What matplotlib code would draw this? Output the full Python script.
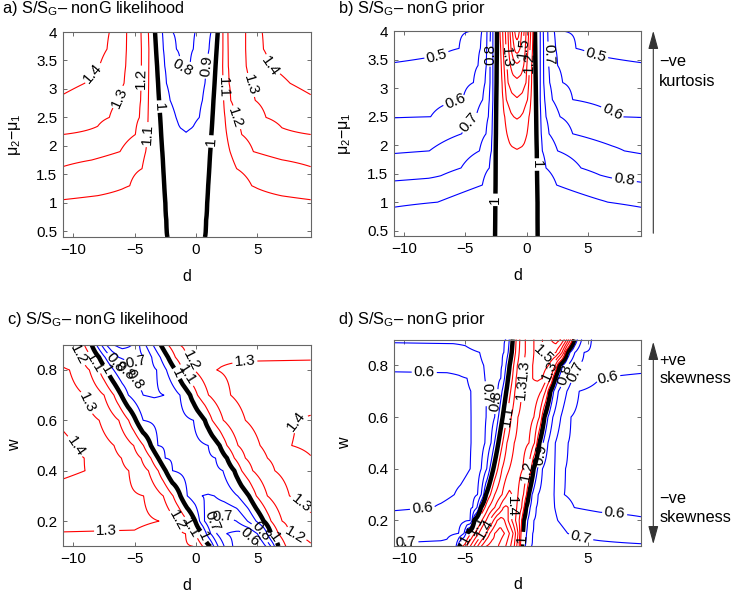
import numpy as np
import matplotlib
matplotlib.use("Agg")
import matplotlib.pyplot as plt
import matplotlib.patches as mpatches
from matplotlib.ticker import FuncFormatter

plt.rcParams['font.family'] = ['Liberation Sans', 'DejaVu Sans']
plt.rcParams['mathtext.fontset'] = 'custom'
plt.rcParams['mathtext.rm'] = 'Liberation Sans'
plt.rcParams['mathtext.it'] = 'Liberation Sans:italic'
plt.rcParams['mathtext.bf'] = 'Liberation Sans:bold'
plt.rcParams['font.size'] = 11

D_MIN, D_MAX = -10.85, 9.35

# ---------------- panel a : S/S_G, nonG likelihood (rows of (d, S))
a_rows_y = [4.0, 3.7, 3.4, 3.1, 2.8, 2.5, 2.2, 1.9, 1.6, 1.3, 1.0, 0.7, 0.4]
a_rows = [
    [(-10.85,1.56),(-7.05,1.4),(-5.64,1.3),(-4.47,1.2),(-3.87,1.1),(-3.33,1.0),(-2.73,0.9),(-1.89,0.8),(-0.85,0.77),(-0.07,0.8),(1.23,0.9),(1.78,1.0),(2.2,1.1),(2.6,1.2),(4.05,1.3),(5.4,1.4),(9.35,1.56)],
    [(-10.85,1.52),(-7.24,1.4),(-5.66,1.3),(-4.44,1.2),(-3.83,1.1),(-3.25,1.0),(-2.65,0.9),(-1.59,0.8),(-0.85,0.785),(-0.21,0.8),(1.07,0.9),(1.69,1.0),(2.2,1.1),(2.62,1.2),(4.05,1.3),(5.5,1.4),(9.35,1.52)],
    [(-10.85,1.48),(-7.86,1.4),(-5.72,1.3),(-4.44,1.2),(-3.84,1.1),(-3.16,1.0),(-2.54,0.9),(-1.24,0.8),(-0.85,0.796),(-0.48,0.8),(0.91,0.9),(1.60,1.0),(2.18,1.1),(2.64,1.2),(4.1,1.3),(6.04,1.4),(9.35,1.48)],
    [(-10.85,1.43),(-9.06,1.4),(-5.85,1.3),(-4.46,1.2),(-3.85,1.1),(-3.08,1.0),(-2.4,0.9),(-1.6,0.841),(-0.85,0.82),(0.0,0.841),(0.74,0.9),(1.52,1.0),(2.21,1.1),(2.7,1.2),(4.36,1.3),(7.67,1.4),(9.35,1.43)],
    [(-10.85,1.385),(-6.23,1.3),(-4.5,1.2),(-3.87,1.1),(-3.0,1.0),(-2.1,0.9),(-1.5,0.864),(-0.8,0.85),(-0.1,0.864),(0.53,0.9),(1.43,1.0),(2.26,1.1),(2.83,1.2),(4.83,1.3),(9.35,1.385)],
    [(-10.85,1.343),(-7.05,1.3),(-4.6,1.2),(-3.9,1.1),(-2.91,1.0),(-1.62,0.9),(-1.25,0.8845),(-0.8,0.88),(-0.35,0.8845),(0.28,0.9),(1.35,1.0),(2.37,1.1),(3.19,1.2),(5.71,1.3),(9.35,1.343)],
    [(-10.85,1.30),(-8.0,1.29),(-4.93,1.2),(-3.94,1.1),(-2.83,1.0),(-2.0,0.937),(-1.4,0.9115),(-0.8,0.903),(-0.2,0.9115),(0.4,0.937),(1.26,1.0),(2.51,1.1),(3.73,1.2),(7.0,1.29),(9.35,1.30)],
    [(-10.85,1.253),(-8.5,1.24),(-6.18,1.2),(-4.09,1.1),(-2.74,1.0),(-0.8,0.925),(1.17,1.0),(2.78,1.1),(4.68,1.2),(7.0,1.24),(9.35,1.253)],
    [(-10.85,1.193),(-4.39,1.1),(-2.66,1.0),(-0.8,0.945),(1.09,1.0),(3.32,1.1),(9.35,1.193)],
    [(-10.85,1.145),(-8.0,1.13),(-5.39,1.1),(-2.58,1.0),(-0.8,0.96),(1.0,1.0),(4.55,1.1),(7.0,1.13),(9.35,1.145)],
    [(-10.85,1.09),(-6.0,1.07),(-2.49,1.0),(-0.8,0.975),(0.92,1.0),(5.0,1.07),(9.35,1.09)],
    [(-10.85,1.05),(-2.41,1.0),(-0.8,0.985),(0.83,1.0),(9.35,1.05)],
    [(-10.85,1.02),(-2.32,1.0),(-0.8,0.99),(0.74,1.0),(9.35,1.02)],
]
a_blue_levels = [0.8, 0.9]
a_red_levels = [1.1, 1.2, 1.3, 1.4]
a_lab_blue = [(-1.16, 3.34), (0.88, 3.4)]
a_lab_black = [(-2.98, 2.69), (1.02, 2.08)]
a_lab_red = [(-8.22, 3.25), (-6.18, 2.84), (-4.55, 3.19), (-4.06, 2.2),
             (2.18, 3.02), (3.19, 2.49), (4.27, 3.05), (5.77, 3.37)]

# ---------------- panel b : S/S_G, nonG prior
b_rows_y = [4.0, 3.7, 3.4, 3.1, 2.8, 2.5, 2.2, 1.9, 1.6, 1.3, 1.0, 0.7, 0.4]
b_rows = [
    [(-10.85,0.45),(-4.62,0.5),(-3.66,0.6),(-3.23,0.7),(-2.95,0.8),(-2.75,0.9),(-2.41,1.0),(-2.17,1.1),(-1.95,1.2),(-1.73,1.3),(-1.51,1.4),(-1.35,1.5),(-1.16,1.6),(-0.97,1.7),(-0.88,1.736),(-0.78,1.75),(-0.68,1.736),(-0.59,1.7),(-0.40,1.6),(-0.20,1.5),(-0.04,1.4),(0.18,1.3),(0.34,1.2),(0.53,1.1),(0.69,1.0),(1.12,0.9),(1.37,0.8),(1.73,0.7),(2.27,0.6),(3.09,0.5),(9.35,0.45)],
    [(-10.85,0.475),(-7.0,0.49),(-5.51,0.5),(-3.77,0.6),(-3.25,0.7),(-2.98,0.8),(-2.75,0.9),(-2.42,1.0),(-2.11,1.1),(-1.91,1.2),(-1.68,1.3),(-1.47,1.4),(-1.27,1.5),(-1.0,1.6),(-0.9,1.637),(-0.78,1.65),(-0.66,1.637),(-0.53,1.6),(-0.29,1.5),(-0.10,1.4),(0.12,1.3),(0.28,1.2),(0.49,1.1),(0.71,1.0),(1.12,0.9),(1.39,0.8),(1.76,0.7),(2.38,0.6),(4.04,0.5),(5.6,0.49),(9.35,0.475)],
    [(-10.85,0.505),(-7.0,0.515),(-5.5,0.54),(-3.96,0.6),(-3.29,0.7),(-2.98,0.8),(-2.75,0.9),(-2.44,1.0),(-2.06,1.1),(-1.84,1.2),(-1.6,1.3),(-1.32,1.4),(-1.08,1.456),(-0.78,1.48),(-0.48,1.456),(-0.23,1.4),(0.03,1.3),(0.24,1.2),(0.42,1.1),(0.73,1.0),(1.12,0.9),(1.39,0.8),(1.81,0.7),(2.54,0.6),(4.0,0.54),(5.5,0.515),(9.35,0.505)],
    [(-10.85,0.537),(-7.0,0.55),(-4.34,0.6),(-3.39,0.7),(-2.98,0.8),(-2.75,0.9),(-2.45,1.0),(-2.0,1.1),(-1.76,1.2),(-1.51,1.3),(-1.18,1.352),(-0.78,1.375),(-0.38,1.352),(-0.04,1.3),(0.18,1.2),(0.41,1.1),(0.75,1.0),(1.12,0.9),(1.40,0.8),(1.89,0.7),(2.95,0.6),(6.0,0.55),(9.35,0.535)],
    [(-10.85,0.567),(-8.0,0.575),(-5.21,0.6),(-3.58,0.7),(-3.04,0.8),(-2.75,0.9),(-2.47,1.0),(-1.92,1.1),(-1.65,1.2),(-1.23,1.266),(-0.78,1.29),(-0.33,1.266),(0.08,1.2),(0.35,1.1),(0.77,1.0),(1.12,0.9),(1.48,0.8),(2.11,0.7),(3.77,0.6),(6.5,0.575),(9.35,0.565)],
    [(-10.85,0.597),(-7.83,0.6),(-4.13,0.7),(-3.12,0.8),(-2.79,0.9),(-2.49,1.0),(-1.78,1.1),(-1.28,1.181),(-1.05,1.2),(-0.78,1.208),(-0.51,1.2),(-0.28,1.181),(0.20,1.1),(0.79,1.0),(1.16,0.9),(1.59,0.8),(2.74,0.7),(7.45,0.6),(9.35,0.598)],
    [(-10.85,0.643),(-8.0,0.655),(-5.3,0.7),(-3.31,0.8),(-2.82,0.9),(-2.50,1.0),(-1.6,1.1),(-1.18,1.139),(-0.78,1.151),(-0.38,1.139),(0.04,1.1),(0.81,1.0),(1.20,0.9),(1.84,0.8),(3.77,0.7),(7.0,0.655),(9.35,0.645)],
    [(-10.85,0.691),(-7.94,0.7),(-3.85,0.8),(-2.87,0.9),(-2.52,1.0),(-1.98,1.048),(-1.38,1.083),(-0.78,1.095),(-0.18,1.083),(0.42,1.048),(0.84,1.0),(1.29,0.9),(2.54,0.8),(7.99,0.7),(9.35,0.69)],
    [(-10.85,0.749),(-8.0,0.76),(-5.35,0.8),(-3.04,0.9),(-2.53,1.0),(-0.78,1.06),(0.86,1.0),(1.59,0.9),(4.45,0.8),(7.0,0.765),(9.35,0.75)],
    [(-10.85,0.816),(-7.0,0.83),(-3.61,0.9),(-2.54,1.0),(-0.78,1.03),(0.88,1.0),(2.46,0.9),(6.0,0.83),(9.35,0.81)],
    [(-10.85,0.885),(-7.26,0.9),(-2.55,1.0),(-0.78,1.012),(0.90,1.0),(6.63,0.9),(9.35,0.885)],
    [(-10.85,0.935),(-2.56,1.0),(-0.78,1.008),(0.90,1.0),(9.35,0.935)],
    [(-10.85,0.96),(-2.57,1.0),(-0.78,1.005),(0.91,1.0),(9.35,0.96)],
]
b_blue_levels = [0.5, 0.6, 0.7, 0.8, 0.9]
b_red_levels = [1.1, 1.2, 1.3, 1.4, 1.5, 1.6, 1.7]
b_lab_blue = [(-7.26, 3.48), (5.59, 3.5), (-5.76, 2.71), (6.76, 2.49), (-4.75, 2.42),
              (7.99, 1.39), (-2.95, 3.6), (1.75, 3.6)]
b_lab_black = [(-2.5, 1.04), (0.8, 1.66)]
b_lab_red = [(-1.68, 3.55), (-0.25, 3.7), (0.2, 3.45)]

# ---------------- panel c : S/S_G, nonG likelihood (skewness)
c_rows_y = [0.9, 0.85, 0.8, 0.7, 0.6, 0.5, 0.45, 0.4, 0.3, 0.2, 0.15, 0.1]
c_rows = [
    [(-10.85,1.24),(-9.89,1.2),(-9.09,1.1),(-8.49,1.0),(-8.1,0.9),(-7.7,0.8),(-7.3,0.7),(-6.8,0.6),(-6.0,0.56),(-5.2,0.6),(-4.6,0.7),(-4.1,0.8),(-3.5,0.9),(-2.87,1.0),(-2.27,1.1),(-1.37,1.2),(1.0,1.27),(9.35,1.28)],
    [(-10.85,1.27),(-9.29,1.2),(-8.49,1.1),(-7.89,1.0),(-7.4,0.9),(-6.9,0.8),(-6.3,0.7),(-5.2,0.65),(-4.2,0.7),(-3.6,0.8),(-2.9,0.9),(-2.27,1.0),(-1.67,1.1),(-0.77,1.2),(2.0,1.285),(9.35,1.29)],
    [(-10.85,1.31),(-10.3,1.3),(-8.68,1.2),(-7.88,1.1),(-7.28,1.0),(-6.7,0.9),(-6.0,0.8),(-4.5,0.74),(-3.2,0.8),(-2.4,0.9),(-1.67,1.0),(-1.07,1.1),(-0.17,1.2),(1.69,1.3),(4.0,1.33),(9.35,1.335)],
    [(-10.85,1.35),(-9.08,1.3),(-7.48,1.2),(-6.68,1.1),(-6.08,1.0),(-5.5,0.9),(-4.3,0.8),(-3.4,0.79),(-2.6,0.8),(-1.3,0.9),(-0.47,1.0),(0.13,1.1),(1.03,1.2),(2.83,1.3),(5.0,1.36),(9.35,1.36)],
    [(-10.85,1.38),(-7.88,1.3),(-6.28,1.2),(-5.48,1.1),(-4.88,1.0),(-4.3,0.9),(-2.0,0.86),(-0.2,0.9),(0.73,1.0),(1.33,1.1),(2.23,1.2),(4.03,1.3),(6.5,1.37),(8.2,1.4),(9.35,1.41)],
    [(-10.85,1.43),(-9.8,1.4),(-6.67,1.3),(-5.07,1.2),(-4.27,1.1),(-3.67,1.0),(-3.1,0.9),(-0.9,0.86),(1.0,0.9),(1.93,1.0),(2.53,1.1),(3.43,1.2),(5.23,1.3),(7.8,1.4),(9.35,1.42)],
    [(-10.85,1.43),(-9.1,1.4),(-6.07,1.3),(-4.47,1.2),(-3.67,1.1),(-3.07,1.0),(-2.5,0.9),(-0.3,0.86),(1.6,0.9),(2.53,1.0),(3.13,1.1),(4.03,1.2),(5.83,1.3),(9.35,1.395)],
    [(-10.85,1.42),(-9.03,1.4),(-5.47,1.3),(-3.87,1.2),(-3.07,1.1),(-2.47,1.0),(-1.9,0.9),(0.3,0.85),(2.2,0.9),(3.13,1.0),(3.73,1.1),(4.63,1.2),(6.43,1.3),(9.35,1.37)],
    [(-10.85,1.36),(-4.26,1.3),(-2.66,1.2),(-1.86,1.1),(-1.26,1.0),(-0.7,0.9),(0.5,0.8),(1.0,0.795),(1.5,0.8),(3.4,0.9),(4.32,1.0),(4.92,1.1),(5.82,1.2),(7.62,1.3),(9.35,1.33)],
    [(-10.85,1.33),(-5.0,1.325),(-3.0,1.3),(-1.46,1.2),(-0.66,1.1),(-0.06,1.0),(0.3,0.9),(0.7,0.8),(1.3,0.7),(2.3,0.66),(3.3,0.7),(4.2,0.8),(4.9,0.9),(5.52,1.0),(6.12,1.1),(7.02,1.2),(9.35,1.285)],
    [(-10.85,1.295),(-5.0,1.29),(-0.85,1.2),(-0.05,1.1),(0.55,1.0),(0.85,0.9),(1.2,0.8),(1.7,0.7),(2.5,0.6),(3.5,0.57),(4.3,0.6),(5.0,0.7),(5.5,0.8),(5.8,0.9),(6.12,1.0),(6.72,1.1),(7.62,1.2),(9.35,1.23)],
    [(-10.85,1.27),(-4.0,1.25),(-0.25,1.2),(0.55,1.1),(1.15,1.0),(1.45,0.9),(1.8,0.8),(2.3,0.7),(3.0,0.6),(4.2,0.55),(5.1,0.6),(5.7,0.7),(6.1,0.8),(6.4,0.9),(6.72,1.0),(7.32,1.1),(9.35,1.19)],
]
c_blue_levels = [0.6, 0.7, 0.8, 0.9]
c_red_levels = [1.1, 1.2, 1.3, 1.4]
c_lab_blue = [(-4.96, 0.854), (-5.77, 0.794), (-5.36, 0.748), (-6.59, 0.827),
              (2.24, 0.205), (4.27, 0.133), (1.15, 0.212), (5.36, 0.159)]
c_lab_black = [(-7.27, 0.80), (-1.8, 0.78), (1.0, 0.146), (6.31, 0.133)]
c_lab_red = [(-9.85, 0.847), (-8.62, 0.675), (-9.85, 0.497), (-7.27, 0.162), (4.0, 0.827),
             (7.94, 0.60), (8.07, 0.239), (8.07, 0.146), (-0.48, 0.834), (-1.0, 0.77),
             (-8.08, 0.834), (-1.43, 0.206), (-0.48, 0.172)]

# ---------------- panel d : S/S_G, nonG prior (skewness)
d_rows_y = [0.9, 0.85, 0.8, 0.75, 0.7, 0.6, 0.5, 0.4, 0.3, 0.25, 0.2, 0.15, 0.1]
d_rows = [
    [(-10.85,0.71),(-5.0,0.715),(-1.68,0.8),(-1.41,0.9),(-1.13,1.0),(-0.85,1.1),(-0.55,1.2),(-0.1,1.3),(0.6,1.4),(1.3,1.5),(2.0,1.6),(2.4,1.65),(2.8,1.6),(3.1,1.5),(3.3,1.4),(3.45,1.3),(3.6,1.2),(3.75,1.1),(3.91,1.0),(4.15,0.9),(4.5,0.8),(5.3,0.7),(7.0,0.69),(9.35,0.69)],
    [(-10.85,0.67),(-6.0,0.67),(-3.83,0.7),(-1.85,0.8),(-1.5,0.9),(-1.21,1.0),(-0.9,1.1),(-0.6,1.2),(-0.1,1.3),(0.6,1.4),(1.3,1.5),(1.9,1.55),(2.4,1.5),(2.7,1.4),(2.9,1.3),(3.05,1.2),(3.18,1.1),(3.31,1.0),(3.55,0.9),(3.95,0.8),(4.7,0.7),(7.0,0.665),(9.35,0.665)],
    [(-10.85,0.625),(-5.5,0.63),(-3.5,0.7),(-2.0,0.8),(-1.68,0.9),(-1.38,1.0),(-1.05,1.1),(-0.75,1.2),(-0.25,1.3),(0.5,1.4),(1.2,1.47),(1.8,1.4),(2.1,1.3),(2.35,1.2),(2.5,1.1),(2.68,1.0),(2.95,0.9),(3.35,0.8),(4.1,0.7),(7.0,0.63),(9.35,0.625)],
    [(-10.85,0.575),(-6.5,0.578),(-4.86,0.6),(-3.4,0.7),(-2.1,0.8),(-1.8,0.9),(-1.51,1.0),(-1.15,1.1),(-0.85,1.2),(-0.3,1.3),(0.5,1.4),(0.9,1.42),(1.3,1.4),(1.7,1.3),(2.0,1.2),(2.15,1.1),(2.33,1.0),(2.6,0.9),(3.0,0.8),(3.75,0.7),(6.0,0.6),(9.35,0.585)],
    [(-10.85,0.555),(-5.5,0.56),(-4.55,0.6),(-3.28,0.7),(-2.35,0.8),(-2.0,0.9),(-1.65,1.0),(-1.3,1.1),(-0.95,1.2),(-0.4,1.3),(0.4,1.38),(1.2,1.3),(1.55,1.2),(1.75,1.1),(1.95,1.0),(2.22,0.9),(2.6,0.8),(3.3,0.7),(4.3,0.6),(6.0,0.565),(9.35,0.565)],
    [(-10.85,0.55),(-5.3,0.555),(-4.53,0.6),(-3.3,0.7),(-2.6,0.8),(-2.3,0.9),(-1.95,1.0),(-1.6,1.1),(-1.25,1.2),(-0.7,1.3),(0.0,1.35),(0.6,1.3),(1.05,1.2),(1.25,1.1),(1.46,1.0),(1.75,0.9),(2.15,0.8),(2.8,0.7),(3.63,0.6),(5.0,0.555),(9.35,0.555)],
    [(-10.85,0.55),(-5.3,0.555),(-4.53,0.6),(-3.4,0.7),(-2.9,0.8),(-2.62,0.9),(-2.30,1.0),(-1.95,1.1),(-1.6,1.2),(-1.0,1.3),(-0.5,1.34),(0.2,1.3),(0.65,1.2),(0.85,1.1),(1.05,1.0),(1.35,0.9),(1.75,0.8),(2.35,0.7),(3.4,0.6),(4.8,0.555),(9.35,0.555)],
    [(-10.85,0.55),(-5.4,0.555),(-4.6,0.6),(-3.7,0.7),(-3.25,0.8),(-3.0,0.9),(-2.71,1.0),(-2.35,1.1),(-2.0,1.2),(-1.4,1.3),(-0.9,1.35),(-0.3,1.3),(0.15,1.2),(0.38,1.1),(0.58,1.0),(0.9,0.9),(1.3,0.8),(2.3,0.7),(3.18,0.6),(4.7,0.555),(9.35,0.555)],
    [(-10.85,0.555),(-7.0,0.56),(-5.9,0.6),(-4.0,0.7),(-3.7,0.8),(-3.5,0.9),(-3.31,1.0),(-2.95,1.1),(-2.6,1.2),(-2.0,1.3),(-1.6,1.4),(-1.4,1.42),(-1.2,1.4),(-0.7,1.3),(-0.25,1.2),(0.0,1.1),(0.18,1.0),(0.45,0.9),(0.95,0.8),(2.25,0.7),(3.09,0.6),(4.5,0.555),(9.35,0.555)],
    [(-10.85,0.59),(-7.6,0.6),(-4.4,0.7),(-4.05,0.8),(-3.88,0.9),(-3.72,1.0),(-3.4,1.1),(-3.1,1.2),(-2.6,1.3),(-2.2,1.4),(-1.9,1.5),(-1.7,1.52),(-1.5,1.5),(-1.2,1.4),(-0.8,1.3),(-0.4,1.2),(-0.2,1.1),(-0.04,1.0),(0.3,0.9),(0.8,0.8),(2.3,0.7),(3.9,0.6),(6.0,0.58),(9.35,0.575)],
    [(-10.85,0.63),(-6.5,0.65),(-4.6,0.7),(-4.45,0.8),(-4.36,0.9),(-4.26,1.0),(-3.95,1.1),(-3.65,1.2),(-3.3,1.3),(-3.0,1.4),(-2.7,1.5),(-2.4,1.6),(-2.1,1.65),(-1.8,1.6),(-1.5,1.5),(-1.2,1.4),(-0.9,1.3),(-0.6,1.2),(-0.4,1.1),(-0.23,1.0),(0.1,0.9),(0.6,0.8),(2.55,0.7),(4.0,0.65),(9.35,0.61)],
    [(-10.85,0.67),(-7.0,0.675),(-5.55,0.7),(-5.1,0.8),(-4.95,0.9),(-4.86,1.0),(-4.55,1.1),(-4.25,1.2),(-3.9,1.3),(-3.6,1.4),(-3.3,1.5),(-3.0,1.6),(-2.6,1.7),(-2.2,1.75),(-1.8,1.7),(-1.4,1.6),(-1.1,1.5),(-0.9,1.4),(-0.7,1.3),(-0.55,1.2),(-0.45,1.1),(-0.31,1.0),(0.0,0.9),(0.5,0.8),(3.36,0.7),(6.0,0.68),(9.35,0.66)],
    [(-10.85,0.71),(-6.5,0.72),(-5.75,0.8),(-5.6,0.9),(-5.49,1.0),(-5.2,1.1),(-4.9,1.2),(-4.6,1.3),(-4.3,1.4),(-4.0,1.5),(-3.7,1.6),(-3.3,1.7),(-2.8,1.75),(-2.3,1.7),(-1.7,1.6),(-1.3,1.5),(-1.0,1.4),(-0.8,1.3),(-0.6,1.2),(-0.5,1.1),(-0.37,1.0),(-0.1,0.9),(0.4,0.8),(3.0,0.72),(9.35,0.71)],
]
d_blue_levels = [0.6, 0.7, 0.8, 0.9]
d_red_levels = [1.1, 1.2, 1.3, 1.4, 1.5, 1.6, 1.7]
d_lab_blue = [(-8.35, 0.783), (-8.48, 0.235), (-9.84, 0.106), (6.63, 0.757), (7.17, 0.213),
              (4.31, 0.106), (-2.49, 0.66), (-2.76, 0.69), (3.09, 0.763), (4.04, 0.776), (1.05, 0.454)]
d_lab_black = [(-5.22, 0.132), (-0.45, 0.132)]
d_lab_red = [(-2.22, 0.61), (-0.31, 0.783), (-0.18, 0.705), (1.18, 0.834), (2.0, 0.776),
             (0.1, 0.39), (-1.27, 0.254), (-3.45, 0.17), (-4.13, 0.183)]

xticks_abc = [-10, -5, 0, 5]
xticks_d = [-10, -5, 5]
yticks_ab = [0.5, 1, 1.5, 2, 2.5, 3, 3.5, 4]
yticks_cd = [0.2, 0.4, 0.6, 0.8]

titles = [r'a) S/S$_\mathrm{G}$– nonG likelihood', r'b) S/S$_\mathrm{G}$– nonG prior',
          r'c) S/S$_\mathrm{G}$– nonG likelihood', r'd) S/S$_\mathrm{G}$– nonG prior']

W, H = 732, 594
fig = plt.figure(figsize=(W / 100, H / 100), dpi=100)

minus_fmt = FuncFormatter(lambda v, pos: ('%g' % v).replace('-', '\u2212'))


def build_field(rows_y, rows):
    dg = np.linspace(D_MIN, D_MAX, 811)
    order = np.argsort(rows_y)
    ys = np.asarray(rows_y, float)[order]
    Z = np.array([np.interp(dg, [p[0] for p in rows[i]], [p[1] for p in rows[i]]) for i in order])
    return dg, ys, Z


def px_rect(l, t, r, b):
    return [l / W, 1 - b / H, (r - l) / W, (b - t) / H]


def panel(rect, rows_y, rows, blue_lv, red_lv, ylim, yticks, xticks, labs, ylabel, ylab_x, xlab_y):
    ax = fig.add_axes(rect)
    ax.set_xlim(D_MIN, D_MAX)
    ax.set_ylim(*ylim)
    dg, ys, Z = build_field(rows_y, rows)
    cb = ax.contour(dg, ys, Z, levels=blue_lv, colors='#0000ff', linewidths=0.8)
    ck = ax.contour(dg, ys, Z, levels=[1.0], colors='black', linewidths=3.2)
    cr = ax.contour(dg, ys, Z, levels=red_lv, colors='#ff0000', linewidths=0.8)
    for cs, pos in zip((cb, ck, cr), labs):
        if pos:
            ax.clabel(cs, manual=pos, fmt='%g', fontsize=11, inline=True,
                      inline_spacing=2, colors='black')
    ax.set_xticks(xticks)
    ax.set_yticks(yticks)
    ax.xaxis.set_major_formatter(minus_fmt)
    ax.yaxis.set_major_formatter(minus_fmt)
    ax.tick_params(direction='in', length=3, width=0.6, top=True, right=True,
                   labelsize=11, color='#555555', pad=4)
    for s in ax.spines.values():
        s.set_color('#666666')
        s.set_linewidth(0.8)
    ax.set_xlabel('d', fontsize=11.5)
    ax.set_ylabel(ylabel, fontsize=11.5)
    ax.yaxis.set_label_coords(ylab_x, 0.5)
    ax.xaxis.set_label_coords(0.5, xlab_y)
    return ax


ax_a = panel(px_rect(62.7, 32, 310.7, 237), a_rows_y, a_rows, a_blue_levels, a_red_levels,
             (0.4, 4.0), yticks_ab, xticks_abc, (a_lab_blue, a_lab_black, a_lab_red),
             'μ$_2$−μ$_1$', -0.16, -0.155)
ax_b = panel(px_rect(393.7, 31.3, 641, 236.3), b_rows_y, b_rows, b_blue_levels, b_red_levels,
             (0.4, 4.0), yticks_ab, xticks_abc, (b_lab_blue, b_lab_black, b_lab_red),
             'μ$_2$−μ$_1$', -0.165, -0.155)
ax_c = panel(px_rect(62.7, 344.7, 310.7, 546.3), c_rows_y, c_rows, c_blue_levels, c_red_levels,
             (0.1, 0.9), yticks_cd, xticks_abc, (c_lab_blue, c_lab_black, c_lab_red),
             'w', -0.165, -0.155)
ax_d = panel(px_rect(393.7, 339.5, 641, 546.3), d_rows_y, d_rows, d_blue_levels, d_red_levels,
             (0.1, 0.9), yticks_cd, xticks_d, (d_lab_blue, d_lab_black, d_lab_red),
             'w', -0.17, -0.15)

# titles
fig.text(2 / W, 1 - 13 / H, titles[0], fontsize=11.8, va='baseline', ha='left')
fig.text(338 / W, 1 - 13 / H, titles[1], fontsize=11.8, va='baseline', ha='left')
fig.text(6.7 / W, 1 - 324 / H, titles[2], fontsize=11.8, va='baseline', ha='left')
fig.text(338 / W, 1 - 324 / H, titles[3], fontsize=11.8, va='baseline', ha='left')

# side arrows and notes
ax_x = 653.3 / W
fig.add_artist(mpatches.FancyArrowPatch(
    (ax_x, 1 - 236 / H), (ax_x, 1 - 28 / H), transform=fig.transFigure,
    arrowstyle='-|>,head_length=0.8,head_width=0.22', mutation_scale=14,
    color='#333333', lw=0.8))
fig.add_artist(mpatches.FancyArrowPatch(
    (ax_x, 1 - 547 / H), (ax_x, 1 - 339 / H), transform=fig.transFigure,
    arrowstyle='<|-|>,head_length=0.8,head_width=0.22', mutation_scale=14,
    color='#333333', lw=0.8))
tx = 659.3 / W
fig.text(tx, 1 - 61.7 / H, '−ve', fontsize=11.8, va='center', ha='left')
fig.text(tx, 1 - 81.7 / H, 'kurtosis', fontsize=11.8, va='center', ha='left')
fig.text(tx, 1 - 360.3 / H, '+ve', fontsize=11.8, va='center', ha='left')
fig.text(tx, 1 - 378.7 / H, 'skewness', fontsize=11.8, va='center', ha='left')
fig.text(tx, 1 - 498.7 / H, '−ve', fontsize=11.8, va='center', ha='left')
fig.text(tx, 1 - 517 / H, 'skewness', fontsize=11.8, va='center', ha='left')

fig.savefig('out.png', dpi=100)
